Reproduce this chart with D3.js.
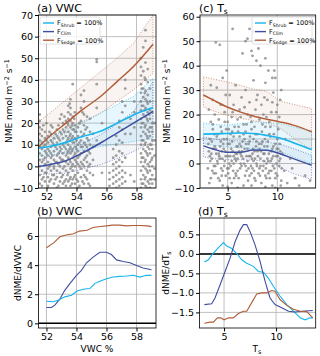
<!DOCTYPE html>
<html lang="en">
<head>
<meta charset="utf-8">
<title>NME vs VWC and Ts</title>
<script src="https://cdn.jsdelivr.net/npm/d3@7"></script>
<style>
  body { margin: 0; background: #fff; }
  svg text { font-family: "DejaVu Sans", sans-serif; fill: #000; }
  .tick line { stroke: #000; }
  .grid line { stroke: #b0b0b0; stroke-width: 0.8; }
</style>
</head>
<body>
<script>
// ---- panel (a): NME vs VWC, model curves and bands ----
var vwcGrid   = [51.5, 52.2, 53.3, 54.4, 55.6, 56.7, 57.8, 59.1];
var shrubA    = [8.5, 9.2, 11.1, 13.8, 16.2, 20.0, 23.8, 27.2];
var shrubAHi  = [11.5, 13.5, 16.9, 20.7, 24.6, 28.5, 32.3, 40.8];
var shrubALo  = [4.6, 5.2, 6.2, 7.7, 9.2, 10.4, 11.5, 13.0];
var climA     = [0.0, 0.8, 2.6, 6.2, 10.8, 15.4, 20.0, 25.4];
var climAHi   = [3.1, 4.6, 6.9, 10.5, 14.6, 19.5, 25.4, 39.2];
var climALo   = [-3.8, -3.5, -3.1, -1.3, 0.8, 3.6, 6.9, 11.5];
var sedgeA    = [9.2, 13.8, 20.0, 26.2, 32.3, 39.2, 46.2, 56.5];
var sedgeAHi  = [20.8, 24.5, 30.8, 37.0, 43.8, 50.0, 56.9, 70.0];
var sedgeALo  = [8.5, 11.0, 15.4, 20.0, 24.6, 30.0, 35.4, 43.0];

// observed NME, grouped by VWC column: [vwc, [nme...]]
var obsA = [
  [51.55, [-8,-4,0,3,6,9,12,15,18,21,24]],
  [51.7,  [-6,-2,2,5,8,11,14,17,-9]],
  [51.8,  [-5,3,9,19]],
  [51.9,  [-7,-3,1,4,7,10,13,16]],
  [52.0,  [-3,6,12,20]],
  [52.1,  [-9,-5,-1,2,5,8,11,14,-10]],
  [52.2,  [-7,0,7,16]],
  [52.3,  [-6,-2,1,4,6,9,12,15,19]],
  [52.4,  [-4,5,11,18]],
  [52.5,  [-8,-4,0,3,7,10,13,-1]],
  [52.6,  [-6,2,9,15]],
  [52.7,  [-10,-5,-2,2,5,8,11,14,17]],
  [52.8,  [-9,1,6,13,19]],
  [52.9,  [-7,-3,0,4,7,9,12,16,22]],
  [53.0,  [-5,3,8,15,24]],
  [53.1,  [-8,-4,-1,3,6,10,13,17,20]],
  [53.2,  [-7,0,9,16,23]],
  [53.3,  [-6,-2,2,5,8,11,14,18,21,-9]],
  [53.4,  [-4,6,12,20]],
  [53.45, [-7,-3,1,4,7,10,13,16,19,22,25,28]],
  [53.55, [-6,3,8,14,29]],
  [53.6,  [-9,-5,-1,2,6,9,12,15,18,21,24,27,31]],
  [53.7,  [-8,0,7,13,19]],
  [53.75, [-6,-2,1,4,8,11,14,17,20,23,38]],
  [53.85, [-5,5,11,17,22]],
  [53.9,  [-8,-4,0,3,6,9,13,16,19,25]],
  [54.0,  [-6,2,8,12,16]],
  [54.1,  [-7,-3,1,4,7,10,14,18,-10]],
  [54.2,  [-9,0,5,11,20]],
  [54.3,  [-5,-1,2,6,9,12,16,21,27,33]],
  [54.4,  [-7,1,9,14,25]],
  [54.5,  [-8,-4,0,3,7,11,15,19,24,30,35]],
  [54.6,  [-5,4,10,17]],
  [54.7,  [-6,-2,2,5,9,13,18,23]],
  [54.8,  [-8,0,7,12]],
  [54.9,  [-9,-3,1,6,10,16,22]],
  [55.1,  [-4,3,9,15]],
  [55.35, [49.5,48.3,38,27,12]],
  [55.7,  [20,-3]],
  [56.2,  [-9,-6,-3]],
  [56.45, [-8,-5,-2,1,4,8]],
  [56.65, [-10,-7,-4,-1,2,5,10,14]],
  [56.85, [-9,-6,-3,0,3,7,12,18,21]],
  [57.05, [-8,-5,-2,2,6,11,17,25,30]],
  [57.25, [-7,-3,4,15,28,36,40]],
  [57.6,  [15,22,-4]],
  [57.85, [18,25,30,-7]],
  [58.3,  [-10,-6,-2,2,6,10,14,18,22,26,30,34,38,42,46,50]],
  [58.35, [-8,4,12,20,28,36]],
  [58.45, [-8,-4,0,4,8,12,16,20,24,28,32,36,44,55]],
  [58.55, [-6,2,10,18,26,34,41]],
  [58.6,  [-9,-5,-1,3,7,11,15,19,23,27,31,35,40,48,58,63]],
  [58.7,  [-10,-2,6,14,22,30]],
  [58.75, [-7,-3,1,5,9,13,17,21,25,29,33,39,45]],
  [58.85, [-8,0,8,16,24]],
  [58.9,  [-10,-6,-2,2,6,10,14,18,22,26,30,36]],
  [59.0,  [-6,3,10,18]],
  [59.05, [-8,-4,0,4,8,12,16,20,25]],
  [59.2,  [-6,-1,5,12,20]]
];

// ---- panel (b): dNME/dVWC ----
var sedgeBX = [52.0,52.5,52.9,53.3,53.8,54.2,54.7,55.1,55.6,56.0,56.4,56.9,57.3,57.8,58.2,58.7,59.0];
var sedgeBY = [5.2,5.55,5.95,6.07,6.16,6.34,6.4,6.59,6.66,6.7,6.75,6.75,6.7,6.72,6.72,6.7,6.65];
var climBX  = [52.0,52.33,52.56,52.89,53.22,53.56,54.0,54.33,54.67,55.11,55.56,56.0,56.33,56.67,57.11,57.56,58.0,58.44,59.0];
var climBY  = [1.09,1.09,1.25,1.66,2.27,2.73,3.3,3.64,4.16,4.55,4.89,4.89,4.73,4.36,4.25,4.16,3.98,3.8,3.68];
var shrubBX = [52.0,52.44,52.78,53.22,53.67,54.0,54.44,54.89,55.22,55.56,56.0,56.44,56.89,57.33,57.78,58.22,58.67,59.0];
var shrubBY = [1.52,1.48,1.59,1.82,1.93,2.2,2.34,2.39,2.73,2.89,3.07,3.18,3.23,3.25,3.3,3.18,3.3,3.3];

// ---- panel (c): NME vs Ts, model curves and bands ----
var tsGrid    = [2.55, 3.56, 4.9, 6.24, 7.58, 8.93, 10.27, 11.61, 13.46];
var shrubC    = [12.0, 12.1, 12.3, 12.5, 12.3, 11.5, 10.4, 8.5, 5.7];
var shrubCHi  = [16.6, 16.0, 15.7, 16.3, 17.0, 16.8, 16.3, 15.0, 13.0];
var shrubCLo  = [8.2, 7.5, 6.8, 6.4, 6.1, 5.8, 4.9, 2.7, 0.0];
var climC     = [7.2, 5.9, 4.6, 4.6, 5.5, 5.4, 4.0, 2.0, -0.7];
var climCHi   = [10.9, 10.0, 9.5, 9.2, 8.9, 8.8, 7.9, 6.1, 3.4];
var climCLo   = [2.7, 2.0, 1.6, 1.5, 1.4, 0.8, -1.5, -4.1, -6.5];
var sedgeC    = [28.0, 25.9, 23.2, 21.1, 19.4, 18.1, 17.0, 15.7, 13.0];
var sedgeCHi  = [35.5, 34.5, 33.4, 32.0, 30.4, 29.5, 25.5, 24.2, 22.5];
var sedgeCLo  = [23.2, 21.5, 19.8, 18.6, 17.5, 16.5, 14.5, 10.5, 5.5];

// observed NME vs Ts: [ts, nme]
var obsC = [
  [3.0,-2],[3.1,5],[3.2,10],[3.3,-6],[3.4,2],[3.5,14],[3.6,-1],[3.7,7],[3.8,-4],[3.9,11],
  [4.0,0],[4.1,4],[4.2,-7],[4.3,9],[4.4,13],[4.5,-3],[4.6,6],[4.7,1],[4.8,-5],[4.9,10],
  [5.0,3],[5.1,-2],[5.2,8],[5.3,12],[5.4,-8],[5.5,5],[5.6,0],[5.7,15],[5.8,-4],[5.9,7],
  [6.0,2],[6.1,-6],[6.2,11],[6.3,4],[6.4,-1],[6.5,9],[6.6,-9],[6.7,6],[6.8,13],[6.9,-3],
  [7.0,1],[7.1,8],[7.2,-5],[7.3,3],[7.4,14],[7.5,-2],[7.6,10],[7.7,5],[7.8,-7],[7.9,0],
  [8.0,12],[8.1,-4],[8.2,6],[8.3,2],[8.4,-8],[8.5,9],[8.6,-1],[8.7,4],[8.8,15],[8.9,-6],
  [9.0,7],[9.1,1],[9.2,-3],[9.3,11],[9.4,5],[9.5,-9],[9.6,3],[9.7,-2],[9.8,8],[9.9,0],
  [10.0,-5],[10.1,6],[10.2,-1],[10.3,2],[10.4,-7],[10.5,4],
  [3.05,8],[3.25,1],[3.45,-3],[3.65,12],[3.85,4],[4.05,-6],[4.25,7],[4.45,2],[4.65,-1],[4.85,14],
  [5.05,-4],[5.25,3],[5.45,9],[5.65,-6],[5.85,1],[6.05,13],[6.25,-2],[6.45,5],[6.65,0],[6.85,8],
  [7.05,-7],[7.25,11],[7.45,2],[7.65,-3],[7.85,7],[8.05,3],[8.25,-5],[8.45,13],[8.65,1],[8.85,-2],
  [9.05,9],[9.25,-6],[9.45,2],[9.65,12],[9.85,-4],[10.05,3],[10.25,8],[10.45,-2],
  [3.15,-8],[3.55,6],[3.95,1],[4.35,-2],[4.75,5],[5.15,0],[5.55,-3],[5.95,4],[6.35,7],[6.75,-5],
  [7.15,3],[7.55,6],[7.95,-1],[8.35,5],[8.75,10],[9.15,4],[9.55,-1],[9.95,6],[10.35,-9],
  [4.15,3],[5.35,6],[6.55,2],[7.35,-1],[8.55,-3],[9.35,1],[6.15,5],[7.75,2],[8.15,8],[5.75,2],
  [3.2,3],[3.4,9],[3.6,-4],[3.8,6],[4.0,12],[4.2,2],[4.4,-5],[4.6,10],[4.8,3],[5.0,8],
  [5.2,-6],[5.4,1],[5.6,11],[5.8,4],[6.0,-3],[6.2,8],[6.4,3],[6.6,12],[6.8,-1],[7.0,6],
  [7.2,9],[7.4,-4],[7.6,1],[7.8,12],[8.0,5],[8.2,-2],[8.4,8],[8.6,4],[8.8,-5],[9.0,2],
  [9.2,12],[9.4,-3],[9.6,7],[9.8,-6],[10.0,10],[10.2,1],[3.35,4],[3.75,-1],[4.55,8],[4.95,-2],
  [5.45,13],[5.85,-5],[6.3,0],[6.7,10],[7.1,-2],[7.5,4],[7.9,9],[8.3,-1],[8.7,7],[9.1,-4],
  [9.5,6],[9.9,3],[10.3,5],[6.9,3],[5.3,-1],[4.4,5],[8.9,0],[7.7,-6],[6.0,7],[5.6,3],
  [3.5,16],[4.3,15],[5.1,14],[6.1,15],[6.9,16],[7.7,15],[8.5,16],[9.3,15],[10.1,14],[4.7,17],
  [7.3,19],[8.9,19],[9.9,21],[6.3,19],[5.5,21],[7.9,26],[8.7,27],[9.5,25],[10.3,26],[6.7,23],
  [3.1,22],[3.3,17],[3.5,26],[3.7,20],[3.9,31],[4.1,18],[4.3,24],[4.5,35],[4.7,21],[5.0,17],
  [5.2,28],[5.4,19],[5.6,24],[5.8,32],[6.0,18],[6.2,22],[6.4,27],[6.6,16],[6.8,30],[7.0,20],
  [7.2,25],[7.4,17],[7.6,34],[7.8,22],[8.0,28],[8.2,18],[8.4,24],[8.6,20],[8.8,33],[9.0,26],
  [9.2,17],[9.4,21],[9.6,29],[9.8,35],[10.0,24],[10.2,19],[10.4,30],[9.7,38],[3.3,32],[4.8,28],
  [3.8,49.5],[4.2,48.5],[4.9,38],[5.5,55],[6.5,45],[7.0,51],[7.2,55],[7.6,54],[7.4,46],[7.9,42],
  [8.3,40],[8.8,43],[9.1,38],[9.5,35],[6.8,50],[7.5,44],[8.1,47],[7.7,50],
  [4.5,-9],[6.0,-10],[7.4,-9],[8.8,-9.5],[9.8,-10],[5.0,-9.5],
  [10.7,-3],[11.0,-8],[11.3,2],[11.8,-6],[12.2,-9],[12.8,-5],[13.3,-7],[10.8,10],[11.5,-2]
];

// ---- panel (d): dNME/dTs ----
var shrubDX = [3.11,3.49,3.91,4.46,4.94,5.26,5.74,6.22,6.7,7.18,7.82,8.3,8.78,9.26,9.74,10.38,11.03,11.67,12.31,12.79,13.27,13.53];
var shrubDY = [-0.21,-0.15,0,0.16,0.29,0.2,0.14,0.01,-0.15,-0.24,-0.32,-0.45,-0.47,-0.62,-0.83,-1.08,-1.3,-1.47,-1.64,-1.69,-1.64,-1.64];
var climDX  = [3.11,3.81,4.13,4.62,5.1,5.58,6.06,6.54,6.86,7.18,7.5,7.98,8.46,8.94,9.42,9.9,10.54,11.19,11.83,12.47,13.53];
var climDY  = [-1.3,-1.28,-1.13,-0.79,-0.45,-0.11,0.31,0.61,0.75,0.75,0.57,0.23,-0.19,-0.7,-1.13,-1.3,-1.38,-1.47,-1.49,-1.47,-1.45];
var sedgeDX = [3.11,3.65,3.97,4.36,4.68,5.0,5.42,5.9,6.38,6.86,7.18,7.66,8.14,8.62,9.1,9.58,9.9,10.38,11.03,11.67,12.31,12.95,13.53];
var sedgeDY = [-1.78,-1.75,-1.75,-1.64,-1.64,-1.69,-1.64,-1.64,-1.53,-1.47,-1.47,-1.25,-1.03,-1.0,-1.0,-0.94,-0.96,-1.17,-1.32,-1.42,-1.47,-1.48,-1.64];

var colShrub = "#17b4ee";
var colClim  = "#3f4f9f";
var colSedge = "#b05d38";

var svg = d3.select("body").append("svg")
  .attr("width", 320).attr("height", 356);

var clipN = 0;

// builds a panel frame with grid, axes and a clipped group for marks
function makePanel(p) {
  var x = d3.scaleLinear().domain(p.xDom).range([p.l, p.r]);
  var y = d3.scaleLinear().domain(p.yDom).range([p.b, p.t]);

  var grid = svg.append("g").attr("class", "grid");
  grid.selectAll("line.v").data(p.xTicks).enter().append("line")
    .attr("x1", d => x(d)).attr("x2", d => x(d))
    .attr("y1", p.t).attr("y2", p.b);
  grid.selectAll("line.h").data(p.yTicks).enter().append("line")
    .attr("y1", d => y(d)).attr("y2", d => y(d))
    .attr("x1", p.l).attr("x2", p.r);

  var id = "clip" + (clipN++);
  svg.append("clipPath").attr("id", id).append("rect")
    .attr("x", p.l).attr("y", p.t).attr("width", p.r - p.l).attr("height", p.b - p.t);
  var g = svg.append("g").attr("clip-path", "url(#" + id + ")");

  var ax = svg.append("g").attr("transform", "translate(0," + p.b + ")")
    .call(d3.axisBottom(x).tickValues(p.xTicks).tickFormat(p.xFmt || d3.format("d")).tickSize(3.5).tickPadding(2));
  var ay = svg.append("g").attr("transform", "translate(" + p.l + ",0)")
    .call(d3.axisLeft(y).tickValues(p.yTicks).tickFormat(p.yFmt || d3.format("d")).tickSize(3.5).tickPadding(2));
  [ax, ay].forEach(function(a) {
    a.select(".domain").remove();
    a.selectAll("text").attr("font-size", 9.5).attr("font-family", "DejaVu Sans");
  });

  return { x: x, y: y, g: g, p: p };
}

function frame(pn) {
  var p = pn.p;
  svg.append("rect").attr("x", p.l).attr("y", p.t)
    .attr("width", p.r - p.l).attr("height", p.b - p.t)
    .attr("fill", "none").attr("stroke", "#000").attr("stroke-width", 0.8);
}

function band(pn, xs, lo, hi, col, fillOp) {
  var pts = xs.map((d, i) => [pn.x(d), pn.y(hi[i])])
    .concat(xs.map((d, i) => [pn.x(d), pn.y(lo[i])]).reverse());
  pn.g.append("path")
    .attr("d", "M" + pts.map(q => q.join(",")).join("L") + "Z")
    .attr("fill", col).attr("fill-opacity", fillOp)
    .attr("stroke", col).attr("stroke-width", 0.8)
    .attr("stroke-dasharray", "1,1.6").attr("stroke-opacity", 0.8);
}

function curve(pn, xs, ys, col, w, smooth) {
  var line = d3.line().x(d => pn.x(d[0])).y(d => pn.y(d[1]))
    .curve(smooth ? d3.curveMonotoneX : d3.curveLinear);
  pn.g.append("path").datum(xs.map((d, i) => [d, ys[i]]))
    .attr("d", line).attr("fill", "none")
    .attr("stroke", col).attr("stroke-width", w);
}

function dots(pn, pts) {
  pn.g.selectAll("circle.obs").data(pts).enter().append("circle")
    .attr("cx", d => pn.x(d[0])).attr("cy", d => pn.y(d[1]))
    .attr("r", 1.4).attr("fill", "#808080").attr("fill-opacity", 0.75);
}

function title(x, y, main, sub) {
  var t = svg.append("text").attr("x", x).attr("y", y).attr("font-size", 11).text(main);
  if (sub) t.append("tspan").attr("font-size", 7.5).attr("dy", 2).text(sub);
}

function ylabelNME(x, cy) {
  var t = svg.append("text").attr("transform", "translate(" + x + "," + cy + ") rotate(-90)")
    .attr("text-anchor", "middle").attr("font-size", 9);
  t.append("tspan").text("NME nmol m");
  t.append("tspan").attr("font-size", 6.5).attr("dy", -3.5).text("\u22122");
  t.append("tspan").attr("dy", 3.5).text(" s");
  t.append("tspan").attr("font-size", 6.5).attr("dy", -3.5).text("\u22121");
}

function legend(x, y) {
  svg.append("rect").attr("x", x).attr("y", y).attr("width", 60).attr("height", 27)
    .attr("fill", "#fff").attr("fill-opacity", 0.8)
    .attr("stroke", "#ccc").attr("stroke-width", 0.6).attr("rx", 1.5);
  var items = [[colShrub, "Shrub", " = 100%"], [colClim, "Clim", ""], [colSedge, "Sedge", " = 100%"]];
  items.forEach(function(it, i) {
    var yy = y + 6 + i * 8.6;
    svg.append("line").attr("x1", x + 3).attr("x2", x + 14).attr("y1", yy).attr("y2", yy)
      .attr("stroke", it[0]).attr("stroke-width", 1.4);
    var t = svg.append("text").attr("x", x + 17).attr("y", yy + 2.3).attr("font-size", 6.5);
    t.append("tspan").text("F");
    t.append("tspan").attr("font-size", 4.6).attr("dy", 1.2).text(it[1]);
    t.append("tspan").attr("dy", -1.2).text(it[2]);
  });
}

// ---- (a) ----
var pa = makePanel({ l: 38.5, r: 156, t: 15, b: 188, xDom: [51.47, 59.3], yDom: [-10, 70],
  xTicks: [52, 54, 56, 58], yTicks: d3.range(-10, 71, 10) });
band(pa, vwcGrid, sedgeALo, sedgeAHi, colSedge, 0.07);
band(pa, vwcGrid, shrubALo, shrubAHi, colShrub, 0.1);
band(pa, vwcGrid, climALo, climAHi, colClim, 0.06);
dots(pa, obsA.flatMap(c => c[1].map(v => [c[0], v])));
curve(pa, vwcGrid, sedgeA, colSedge, 1.5, true);
curve(pa, vwcGrid, shrubA, colShrub, 1.6, true);
curve(pa, vwcGrid, climA, colClim, 1.5, true);
frame(pa);
legend(40, 17);
title(37, 12, "(a) VWC");
ylabelNME(12, 101);

// ---- (b) ----
var pb = makePanel({ l: 38.5, r: 156, t: 218, b: 328, xDom: [51.47, 59.3], yDom: [-0.32, 7.24],
  xTicks: [52, 54, 56, 58], yTicks: [0, 2, 4, 6] });
pb.g.append("line").attr("x1", pb.p.l).attr("x2", pb.p.r)
  .attr("y1", pb.y(0)).attr("y2", pb.y(0)).attr("stroke", "#000").attr("stroke-width", 1.5);
curve(pb, sedgeBX, sedgeBY, colSedge, 1.1, false);
curve(pb, climBX, climBY, colClim, 1.1, false);
curve(pb, shrubBX, shrubBY, colShrub, 1.1, false);
frame(pb);
title(37, 215, "(b) VWC");
svg.append("text").attr("transform", "translate(21,273) rotate(-90)")
  .attr("text-anchor", "middle").attr("font-size", 9).text("dNME/dVWC");
svg.append("text").attr("x", 97).attr("y", 352).attr("text-anchor", "middle")
  .attr("font-size", 9).text("VWC %");

// ---- (c) ----
var pc = makePanel({ l: 200, r: 315.7, t: 15, b: 188, xDom: [2.21, 13.87], yDom: [-10, 60.7],
  xTicks: [5, 10], yTicks: d3.range(-10, 61, 10) });
band(pc, tsGrid, sedgeCLo, sedgeCHi, colSedge, 0.07);
band(pc, tsGrid, shrubCLo, shrubCHi, colShrub, 0.1);
band(pc, tsGrid, climCLo, climCHi, colClim, 0.06);
dots(pc, obsC);
curve(pc, tsGrid, sedgeC, colSedge, 1.5, true);
curve(pc, tsGrid, shrubC, colShrub, 1.6, true);
curve(pc, tsGrid, climC, colClim, 1.5, true);
frame(pc);
legend(252, 17);
title(199, 12, "(c) T", "s");
ylabelNME(170, 101);

// ---- (d) ----
var pd = makePanel({ l: 199.5, r: 315.7, t: 218, b: 328, xDom: [2.64, 13.81], yDom: [-1.9, 0.92],
  xTicks: [5, 10], yTicks: [0.5, 0, -0.5, -1, -1.5], yFmt: d3.format(".1f") });
pd.g.append("line").attr("x1", pd.p.l).attr("x2", pd.p.r)
  .attr("y1", pd.y(0)).attr("y2", pd.y(0)).attr("stroke", "#000").attr("stroke-width", 1.5);
curve(pd, shrubDX, shrubDY, colShrub, 1.1, false);
curve(pd, climDX, climDY, colClim, 1.1, false);
curve(pd, sedgeDX, sedgeDY, colSedge, 1.1, false);
frame(pd);
title(198, 215, "(d) T", "s");
var ld = svg.append("text").attr("transform", "translate(169,273) rotate(-90)")
  .attr("text-anchor", "middle").attr("font-size", 9);
ld.append("tspan").text("dNME/dT");
ld.append("tspan").attr("font-size", 6.5).attr("dy", 2).text("s");
var xd = svg.append("text").attr("x", 257).attr("y", 352).attr("text-anchor", "middle").attr("font-size", 9);
xd.append("tspan").text("T");
xd.append("tspan").attr("font-size", 6.5).attr("dy", 2).text("s");
</script>
</body>
</html>
